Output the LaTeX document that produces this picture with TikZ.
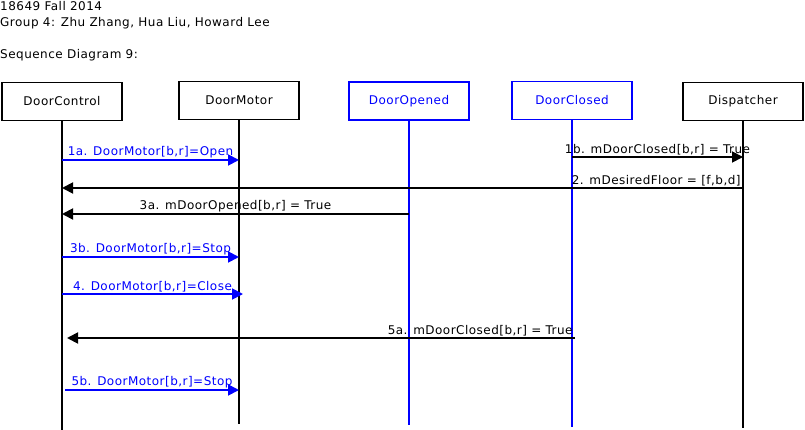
\documentclass[tikz,border=0pt]{standalone}
\usepackage{fontspec}
\setmainfont[LetterSpace=4]{DejaVu Sans}
\usetikzlibrary{arrows.meta}
\tikzset{
	obj/.style={draw, line width=1.8pt, fill=white, minimum width=120pt, minimum height=38pt, inner sep=0pt},
	life/.style={line width=1.5pt},
	msg/.style={line width=1.8pt, -{Triangle[length=11pt,width=11pt]}},
	lbl/.style={inner sep=1.5pt}
}
\begin{document}
\begin{tikzpicture}[x=1pt, y=-1pt, font=\fontsize{12}{14}\selectfont]
	\useasboundingbox[fill=white] (0,0) rectangle (805,430);
	% Kopfzeilen
	\node[anchor=base west, inner sep=0pt] (course) at (0,11) {18649 Fall 2014};
	\node[anchor=base west, inner sep=0pt] (group) at (0,27) {Group 4: Zhu Zhang, Hua Liu, Howard Lee};
	\node[anchor=base west, inner sep=0pt] (title) at (0,59) {Sequence Diagram 9:};
	% Objekte
	\node[obj] (dc) at (62,101.5) {DoorControl};
	\node[obj] (dm) at (239,100.5) {DoorMotor};
	\node[obj, draw=blue, text=blue] (dop) at (409,101) {DoorOpened};
	\node[obj, draw=blue, text=blue] (dcl) at (572,100.5) {DoorClosed};
	\node[obj] (dis) at (743,101.5) {Dispatcher};
	% Lebenslinien
	\coordinate (dcEnd) at (62,430);
	\coordinate (dmEnd) at (239,424);
	\coordinate (dopEnd) at (409,425);
	\coordinate (dclEnd) at (572,427);
	\coordinate (disEnd) at (743,428);
	\draw[life] (dc.south) -- (dcEnd);
	\draw[life] (dm.south) -- (dmEnd);
	\draw[life, blue] (dop.south) -- (dopEnd);
	\draw[life, blue] (dcl.south) -- (dclEnd);
	\draw[life] (dis.south) -- (disEnd);
	% Nachrichten
	\draw[msg, blue] (dc |- 0,160) -- (dm |- 0,160)
		node[lbl, midway, above] (m1a) {1a. DoorMotor[b,r]=Open};
	\draw[msg] (dcl |- 0,157) -- (dis |- 0,157)
		node[lbl, midway, above] (m1b) {1b. mDoorClosed[b,r] = True};
	\draw[msg] (dis |- 0,188) -- (dc |- 0,188)
		node[lbl, pos=0, anchor=south east] (m2) {2. mDesiredFloor = [f,b,d]};
	\draw[msg] (dop |- 0,214) -- (dc |- 0,214)
		node[lbl, midway, above] (m3a) {3a. mDoorOpened[b,r] = True};
	\draw[msg, blue] (dc |- 0,257) -- (dm |- 0,257)
		node[lbl, midway, above] (m3b) {3b. DoorMotor[b,r]=Stop};
	\draw[msg, blue] (dc |- 0,294) -- ([xshift=4pt]dm |- 0,294)
		node[lbl, midway, above] (m4) {4. DoorMotor[b,r]=Close};
	\draw[msg] ([xshift=3pt]dcl |- 0,338) -- ([xshift=5pt]dc |- 0,338)
		node[lbl, pos=0, anchor=south east] (m5a) {5a. mDoorClosed[b,r] = True};
	\draw[msg, blue] ([xshift=3pt]dc |- 0,390) -- (dm |- 0,390)
		node[lbl, midway, above] (m5b) {5b. DoorMotor[b,r]=Stop};
\end{tikzpicture}
\end{document}
